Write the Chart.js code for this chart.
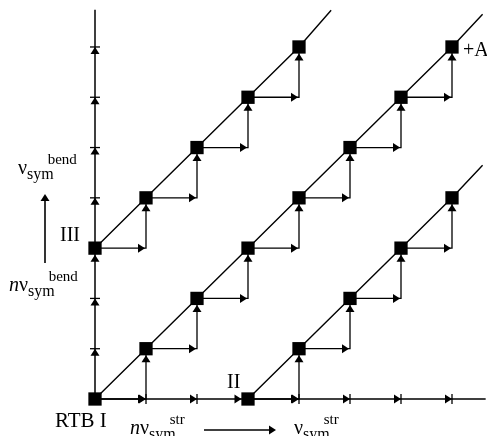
<!DOCTYPE html>
<html>
<head>
<meta charset="utf-8">
<script src="https://cdn.jsdelivr.net/npm/chart.js@4.4.0/dist/chart.umd.min.js"></script>
<style>
  body { margin: 0; background: #fff; }
  #wrap { width: 487px; height: 436px; position: relative; }
</style>
</head>
<body>
<div id="wrap"><canvas id="ladder"></canvas></div>
<script>
// levels in quanta: x = stretch, y = bend
var rtbX = [0, 1, 2, 3, 4, 5, 6, 7];
var rtbY = [0, 1, 2, 3, 4, 5, 6, 7];
var iiiX = [0, 1, 2, 3, 4];
var iiiY = [3, 4, 5, 6, 7];
var iiX = [3, 4, 5, 6, 7];
var iiY = [0, 1, 2, 3, 4];
// where each diagonal runs out past its last level
var rtbEnd = [7.6, 7.65];
var iiiEnd = [4.63, 7.73];
var iiEnd = [7.6, 4.65];
// ladder ticks on the two axes
var bottomTicks = [1, 2, 3, 4, 5, 6, 7];
var leftTicks = [1, 2, 3, 4, 5, 6, 7];
var bottomEnd = 7.66;
var leftEnd = 7.74;

function pts(xs, ys) {
  var out = [];
  for (var i = 0; i < xs.length; i++) out.push({x: xs[i], y: ys[i]});
  return out;
}

var chains = [pts(rtbX, rtbY), pts(iiiX, iiiY), pts(iiX, iiY)];
var ends = [rtbEnd, iiiEnd, iiEnd];

var datasets = [];
// axes
datasets.push({ data: [{x: 0, y: leftEnd}, {x: 0, y: 0}, {x: bottomEnd, y: 0}],
  borderColor: '#000', borderWidth: 1.5, pointRadius: 0, showLine: true });
chains.forEach(function (c, k) {
  // diagonal through the levels
  var diag = c.concat([{x: ends[k][0], y: ends[k][1]}]);
  datasets.push({ data: diag, showLine: true, borderColor: '#000', borderWidth: 1.4,
    pointStyle: 'rect', backgroundColor: '#000', borderJoinStyle: 'miter',
    pointRadius: diag.map(function (p, i) { return i < c.length ? 9.4 : 0; }),
    pointBorderWidth: 0 });
  // staircase: stretch step then bend step
  datasets.push({ data: c, showLine: true, stepped: 'before', borderColor: '#000',
    borderWidth: 1.3, pointRadius: 0 });
});

function head(ctx, x, y, dir) {
  var L = 7, W = 4.5;
  ctx.beginPath();
  if (dir === 'up') {
    ctx.moveTo(x, y); ctx.lineTo(x - W, y + L); ctx.lineTo(x + W, y + L);
  } else {
    ctx.moveTo(x, y); ctx.lineTo(x - L, y - W); ctx.lineTo(x - L, y + W);
  }
  ctx.closePath();
  ctx.fill();
}

function nuLabel(ctx, x, y, italicN, sup) {
  var cx = x;
  if (italicN) {
    ctx.font = 'italic 20px "Liberation Serif"';
    ctx.fillText('n', cx, y);
    cx += ctx.measureText('n').width;
  }
  ctx.font = '20px "Liberation Serif"';
  ctx.fillText('ν', cx, y);
  cx += ctx.measureText('ν').width;
  ctx.font = '16px "Liberation Serif"';
  ctx.fillText('sym', cx, y + 5);
  var w = ctx.measureText('sym').width;
  ctx.font = '15px "Liberation Serif"';
  ctx.fillText(sup, cx + w - 6, y - 10);
}

var ladderPlugin = {
  id: 'ladderMarks',
  afterDatasetsDraw: function (chart) {
    var ctx = chart.ctx, sx = chart.scales.x, sy = chart.scales.y;
    var half = 6.5;
    ctx.save();
    ctx.fillStyle = '#000';
    ctx.strokeStyle = '#000';
    ctx.lineWidth = 1.3;
    // arrowheads on every step
    chains.forEach(function (c) {
      for (var i = 1; i < c.length; i++) {
        var px = sx.getPixelForValue(c[i].x);
        head(ctx, px - 1, sy.getPixelForValue(c[i - 1].y), 'right');
        head(ctx, px, sy.getPixelForValue(c[i].y) + half, 'up');
      }
    });
    // axis ticks: arrowhead with bar, or into a square
    var x0 = sx.getPixelForValue(0), y0 = sy.getPixelForValue(0);
    bottomTicks.forEach(function (t) {
      var px = sx.getPixelForValue(t);
      var onSquare = chains.some(function (c) { return c[0].x === t && c[0].y === 0; });
      if (onSquare) { head(ctx, px - half, y0, 'right'); return; }
      head(ctx, px, y0, 'right');
      ctx.beginPath(); ctx.moveTo(px, y0 - 5); ctx.lineTo(px, y0 + 5); ctx.stroke();
    });
    leftTicks.forEach(function (t) {
      var py = sy.getPixelForValue(t);
      var onSquare = chains.some(function (c) { return c[0].y === t && c[0].x === 0; });
      if (onSquare) { head(ctx, x0, py + half, 'up'); return; }
      head(ctx, x0, py, 'up');
      ctx.beginPath(); ctx.moveTo(x0 - 5, py); ctx.lineTo(x0 + 5, py); ctx.stroke();
    });

    // labels
    ctx.textBaseline = 'alphabetic';
    ctx.font = '21px "Liberation Serif"';
    ctx.fillText('RTB I', 55, 427);
    ctx.font = '20px "Liberation Serif"';
    ctx.fillText('II', sx.getPixelForValue(iiX[0]) - 21, 388);
    ctx.fillText('III', 60, 241);
    ctx.fillText('+A', sx.getPixelForValue(rtbX[rtbX.length - 1]) + 11, 56);

    nuLabel(ctx, 18, 174, false, 'bend');
    nuLabel(ctx, 9, 291, true, 'bend');
    nuLabel(ctx, 130, 434, true, 'str');
    nuLabel(ctx, 294, 434, false, 'str');

    // direction arrows
    ctx.lineWidth = 1.6;
    ctx.beginPath(); ctx.moveTo(45, 263); ctx.lineTo(45, 200); ctx.stroke();
    head(ctx, 45, 194, 'up');
    ctx.beginPath(); ctx.moveTo(204, 430); ctx.lineTo(270, 430); ctx.stroke();
    head(ctx, 276, 430, 'right');
    ctx.restore();
  }
};

new Chart(document.getElementById('ladder').getContext('2d'), {
  type: 'scatter',
  data: { datasets: datasets },
  options: {
    responsive: true,
    maintainAspectRatio: false,
    animation: false,
    layout: { padding: 0, autoPadding: false },
    plugins: { legend: { display: false }, tooltip: { enabled: false } },
    elements: { line: { tension: 0 } },
    datasets: { scatter: { clip: false } },
    scales: {
      x: { type: 'linear', display: false, min: -95 / 51, max: 392 / 51 },
      y: { type: 'linear', display: false, min: 7.934 - 436 / 50.29, max: 7.934 }
    }
  },
  plugins: [ladderPlugin]
});
</script>
</body>
</html>
